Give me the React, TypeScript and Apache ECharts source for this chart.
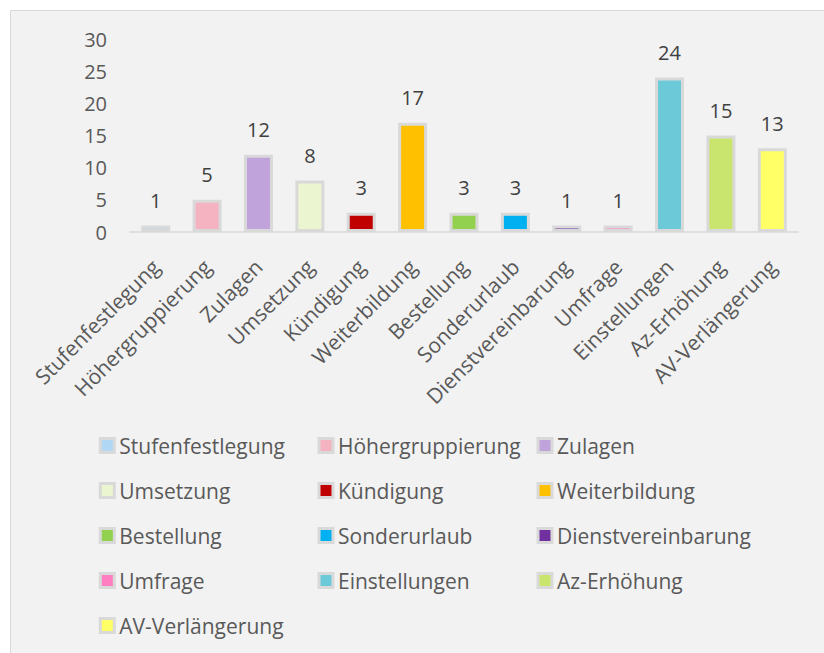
import React, { useEffect, useRef } from "react";
import * as echarts from "echarts";

const categories = [
  "Stufenfestlegung",
  "Höhergruppierung",
  "Zulagen",
  "Umsetzung",
  "Kündigung",
  "Weiterbildung",
  "Bestellung",
  "Sonderurlaub",
  "Dienstvereinbarung",
  "Umfrage",
  "Einstellungen",
  "Az-Erhöhung",
  "AV-Verlängerung",
];
const values = [1, 5, 12, 8, 3, 17, 3, 3, 1, 1, 24, 15, 13];
const colors = [
  "#b0d8f5",
  "#f5b3c2",
  "#c0a3da",
  "#ebf5cf",
  "#c00000",
  "#ffc000",
  "#92d050",
  "#00b0f0",
  "#7030a0",
  "#ff7dc1",
  "#6ccad8",
  "#c9e56e",
  "#ffff66",
];
const yTicks = { min: 0, max: 30, interval: 5 };

const FONT = "'Open Sans', 'Noto Sans', sans-serif";

export default function App() {
  const ref = useRef<HTMLDivElement>(null);
  useEffect(() => {
    if (!ref.current) return;
    const chart = echarts.init(ref.current, undefined, { renderer: "svg" });
    const series = categories.map((name, i) => ({
      type: "bar",
      name,
      barWidth: 29,
      barGap: "-100%",
      data: values.map((v, j) => (j === i ? v : "-")),
      itemStyle: { color: colors[i], borderColor: "#d9d9d9", borderWidth: 3 },
      label: {
        show: true,
        position: "top",
        distance: 15,
        fontSize: 20,
        color: "#404040",
        fontFamily: FONT,
      },
    }));
    const colLefts = [98.8, 317.5, 536.5];
    const legends = colLefts.map((left, k) => ({
      orient: "vertical",
      left,
      top: 435,
      padding: 0,
      itemGap: 24,
      itemWidth: 14,
      itemHeight: 14,
      icon: "rect",
      selectedMode: false,
      data: categories.filter((_, i) => i % 3 === k),
      itemStyle: { borderColor: "#d9d9d9", borderWidth: 3 },
      textStyle: { fontSize: 21, color: "#595959", fontFamily: FONT },
    }));
    chart.setOption({
      animation: false,
      backgroundColor: "#ffffff",
      textStyle: { fontFamily: FONT },
      graphic: [
        {
          type: "rect",
          z: -10,
          silent: true,
          shape: { x: 10.5, y: 10.5, width: 830, height: 660 },
          style: { fill: "#f2f2f2", stroke: "#d9d9d9", lineWidth: 1 },
        },
      ],
      grid: { left: 130, right: 26, top: 39, bottom: 421, containLabel: false },
      legend: legends,
      xAxis: {
        type: "category",
        data: categories,
        axisTick: { show: false },
        axisLine: { lineStyle: { color: "#d9d9d9", width: 1.5 } },
        axisLabel: {
          interval: 0,
          rotate: 45,
          fontSize: 21,
          color: "#595959",
          margin: 31,
          fontFamily: FONT,
        },
      },
      yAxis: {
        type: "value",
        min: yTicks.min,
        max: yTicks.max,
        interval: yTicks.interval,
        splitLine: { show: false },
        axisLine: { show: false },
        axisTick: { show: false },
        axisLabel: { fontSize: 20, color: "#595959", margin: 23, fontFamily: FONT },
      },
      series,
    });
    return () => chart.dispose();
  }, []);
  return (
    <div
      ref={ref}
      style={{ position: "absolute", left: 0, top: 0, width: 824, height: 653 }}
    />
  );
}
